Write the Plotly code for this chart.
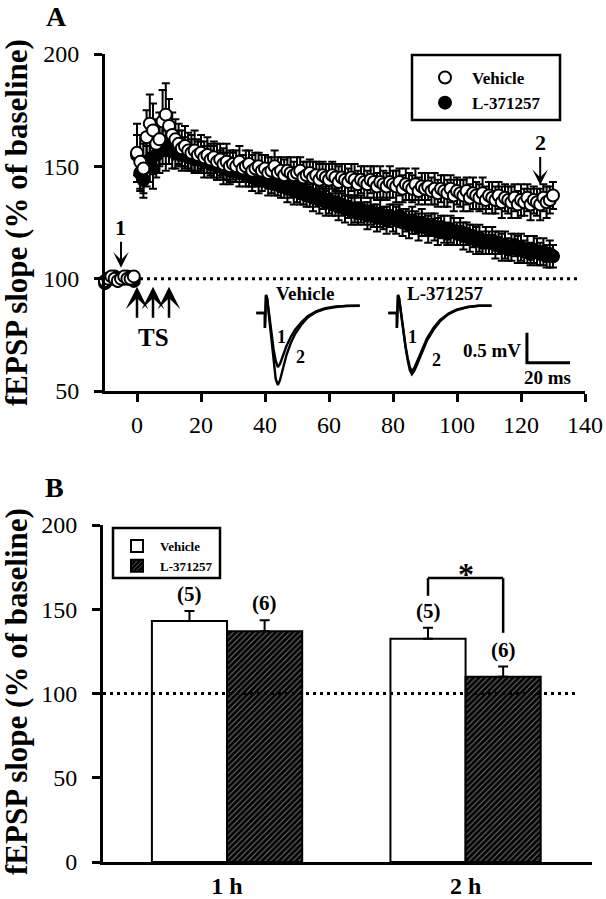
import plotly.graph_objects as go

# ---------------- data: panel A time course ----------------
t_base = [-10, -9, -8, -7, -6, -5, -4, -3, -2, -1]
veh_base = [99, 100, 101, 100, 99, 100, 101, 100, 100, 101]
veh_base_sem = [1, 1, 1, 1, 1, 1, 1, 1, 1, 1]
l37_base = [98, 100, 100, 101, 99, 100, 100, 101, 100, 99]
l37_base_sem = [1, 1, 1, 1, 1, 1, 1, 1, 1, 1]

t_post = list(range(0, 131))
veh_post = [
    156, 152, 149, 163, 169, 166, 160, 162, 170, 173,
    168, 164, 162, 160, 158, 159, 157, 156, 157, 155,
    156, 154, 155, 153, 154, 152, 153, 151, 152, 150,
    151, 150, 152, 149, 150, 151, 148, 149, 150, 148,
    149, 147, 148, 150, 147, 148, 146, 148, 147, 146,
    147, 148, 145, 146, 147, 145, 146, 144, 146, 145,
    144, 146, 145, 143, 145, 144, 143, 145, 144, 142,
    144, 143, 142, 144, 143, 141, 143, 142, 141, 143,
    142, 141, 143, 140, 142, 141, 140, 142, 139, 141,
    140, 141, 139, 140, 138, 140, 139, 138, 140, 137,
    139, 138, 137, 139, 136, 138, 137, 136, 138, 135,
    137, 136, 135, 137, 134, 136, 135, 134, 136, 133,
    135, 134, 136, 133, 135, 134, 133, 136, 134, 135,
    137]
veh_sem = [
    13, 12, 11, 12, 13, 12, 11, 12, 14, 14,
    12, 10, 9, 9, 8, 9, 8, 8, 9, 7,
    8, 7, 8, 7, 7, 8, 7, 7, 8, 7,
    6, 7, 7, 6, 7, 6, 7, 7, 6, 7,
    6, 7, 6, 7, 7, 6, 7, 6, 7, 6,
    7, 6, 7, 6, 6, 7, 6, 7, 6, 6,
    7, 6, 6, 7, 6, 7, 6, 6, 7, 6,
    6, 7, 6, 6, 7, 6, 7, 6, 6, 7,
    6, 7, 6, 6, 7, 6, 6, 7, 6, 6,
    7, 6, 6, 7, 6, 6, 7, 6, 6, 7,
    6, 6, 7, 6, 6, 7, 6, 6, 7, 6,
    6, 7, 6, 6, 7, 6, 6, 7, 6, 6,
    7, 6, 6, 7, 6, 6, 7, 6, 7, 6,
    6]
l37_post = [
    155, 147, 144, 150, 153, 149, 155, 158, 161, 157,
    159, 157, 156, 158, 155, 156, 154, 155, 153, 154,
    155, 152, 153, 151, 152, 150, 151, 149, 150, 148,
    150, 148, 147, 149, 146, 147, 145, 146, 144, 145,
    146, 143, 144, 142, 143, 141, 142, 140, 141, 139,
    140, 138, 139, 137, 138, 136, 137, 135, 136, 134,
    135, 133, 134, 132, 133, 131, 132, 130, 131, 129,
    131, 129, 128, 130, 128, 127, 129, 127, 126, 128,
    127, 126, 128, 125, 126, 124, 126, 125, 123, 125,
    124, 122, 124, 123, 121, 123, 122, 120, 122, 121,
    120, 121, 119, 120, 118, 119, 117, 118, 116, 117,
    116, 117, 115, 116, 114, 115, 113, 114, 115, 113,
    114, 112, 113, 111, 113, 112, 111, 112, 110, 111,
    110]
l37_sem = [
    9, 8, 8, 9, 10, 9, 10, 11, 10, 9,
    8, 8, 7, 8, 7, 7, 6, 7, 6, 7,
    6, 7, 6, 6, 7, 6, 6, 7, 6, 6,
    6, 5, 6, 6, 5, 6, 6, 5, 6, 6,
    5, 6, 6, 5, 6, 5, 6, 6, 5, 6,
    6, 5, 6, 5, 6, 6, 5, 6, 5, 6,
    6, 5, 6, 6, 5, 6, 5, 6, 6, 5,
    6, 5, 6, 6, 5, 6, 6, 5, 6, 5,
    6, 6, 5, 6, 5, 6, 6, 5, 6, 6,
    5, 6, 5, 6, 6, 5, 6, 5, 6, 6,
    5, 6, 6, 5, 6, 5, 6, 6, 5, 6,
    5, 6, 6, 5, 6, 6, 5, 6, 5, 6,
    6, 5, 6, 5, 6, 6, 5, 6, 5, 6,
    5]

# inset fEPSP traces (time in ms, amplitude in mV)
trace_t = [-4, 0, 0, 0.5, 1, 2, 3, 4, 5, 6, 7, 8, 9, 10, 12, 14, 17, 20, 24, 28, 33, 38, 44]
veh_trace1 = [0, 0, -0.25, 0.3, 0.25, -0.05, -0.35, -0.6, -0.8, -0.9, -0.85, -0.75, -0.65,
              -0.55, -0.4, -0.28, -0.15, -0.05, 0.03, 0.08, 0.11, 0.12, 0.12]
veh_trace2 = [0, 0, -0.25, 0.3, 0.25, -0.1, -0.5, -0.85, -1.1, -1.2, -1.12, -0.98, -0.84,
              -0.7, -0.5, -0.35, -0.19, -0.07, 0.02, 0.07, 0.1, 0.12, 0.12]
l37_trace1 = [0, 0, -0.25, 0.3, 0.25, -0.05, -0.3, -0.55, -0.75, -0.9, -0.97, -0.92, -0.84,
              -0.75, -0.57, -0.42, -0.25, -0.12, -0.01, 0.06, 0.1, 0.12, 0.12]
l37_trace2 = [0, 0, -0.25, 0.3, 0.25, -0.05, -0.3, -0.56, -0.78, -0.95, -1.02, -0.97, -0.89,
              -0.8, -0.61, -0.46, -0.28, -0.14, -0.02, 0.05, 0.1, 0.12, 0.12]
SCALE_MS = 20
SCALE_MV = 0.5

# ---------------- data: panel B bars ----------------
periods = ["1 h", "2 h"]
veh_bar = [143, 132.5]
veh_bar_sem = [6, 6.5]
l37_bar = [137, 110]
l37_bar_sem = [6.5, 6]
veh_n = ["(5)", "(5)"]
l37_n = ["(6)", "(6)"]

# ---------------- layout helpers ----------------
W, H = 606, 899
def px(x):
    return x / W
def py(y):
    return 1 - y / H

FONT = "Liberation Serif"
BOLD = dict(family=FONT, color="black", weight="bold")

fig = go.Figure()

# panel A series
for name, tb, yb, sb, yp, sp, fill, rank in [
    ("L-371257", t_base, l37_base, l37_base_sem, l37_post, l37_sem, "black", 2),
    ("Vehicle", t_base, veh_base, veh_base_sem, veh_post, veh_sem, "white", 1),
]:
    fig.add_trace(go.Scatter(
        x=tb + t_post, y=yb + yp, mode="markers", name=name,
        marker=dict(symbol="circle", size=12, color=fill, line=dict(color="black", width=2)),
        error_y=dict(type="data", array=sb + sp, color="black", thickness=2, width=4),
        xaxis="x", yaxis="y", cliponaxis=False, legend="legend", legendrank=rank,
    ))

# inset traces
for xa, ya, tr in [("x3", "y3", veh_trace1), ("x3", "y3", veh_trace2),
                   ("x4", "y4", l37_trace1), ("x4", "y4", l37_trace2)]:
    fig.add_trace(go.Scatter(x=trace_t, y=tr, mode="lines", line=dict(color="black", width=2.4),
                             xaxis=xa, yaxis=ya, showlegend=False, hoverinfo="skip"))
sb_x0 = 60.5
sb_y0 = -0.83
fig.add_trace(go.Scatter(x=[sb_x0, sb_x0, sb_x0 + SCALE_MS], y=[sb_y0 + SCALE_MV, sb_y0, sb_y0],
                         mode="lines", line=dict(color="black", width=3),
                         xaxis="x4", yaxis="y4", showlegend=False, hoverinfo="skip"))

# panel B bars
fig.add_trace(go.Bar(
    x=periods, y=veh_bar, name="Vehicle", xaxis="x2", yaxis="y2", legend="legend2",
    marker=dict(color="white", line=dict(color="black", width=2)),
    error_y=dict(type="data", array=veh_bar_sem, arrayminus=[0, 0], color="black", thickness=2, width=5),
))
fig.add_trace(go.Bar(
    x=periods, y=l37_bar, name="L-371257", xaxis="x2", yaxis="y2", legend="legend2",
    marker=dict(color="black", line=dict(color="black", width=2),
                pattern=dict(shape="/", fgcolor="#777777", bgcolor="black", size=4,
                             solidity=0.25, fillmode="replace")),
    error_y=dict(type="data", array=l37_bar_sem, arrayminus=[0, 0], color="black", thickness=2, width=5),
))

BARGAP = 0.37
half = (1 - BARGAP) / 4

shapes = []
# baseline dotted lines
shapes.append(dict(type="line", xref="x", yref="y", x0=-10, x1=138, y0=100, y1=100,
                   line=dict(color="black", width=3, dash="3px,4px"), layer="below"))
shapes.append(dict(type="line", xref="x2 domain", yref="y2", x0=0, x1=0.971, y0=100, y1=100,
                   line=dict(color="black", width=3, dash="3px,4px"), layer="above"))
# legend boxes
shapes.append(dict(type="rect", xref="paper", yref="paper", x0=px(412), x1=px(560), y0=py(120), y1=py(55),
                   line=dict(color="black", width=2.5), fillcolor="rgba(0,0,0,0)"))
shapes.append(dict(type="rect", xref="paper", yref="paper", x0=px(113), x1=px(220), y0=py(578), y1=py(528),
                   line=dict(color="black", width=2.5), fillcolor="rgba(0,0,0,0)"))
# significance bracket (2 h)
br_top = 168.5
xl, xr = 1 - half, 1 + half
br_left_bottom = veh_bar[1] + veh_bar_sem[1] + 19
br_right_bottom = l37_bar[1] + l37_bar_sem[1] + 20
for x0, y0, x1, y1 in [(xl, br_left_bottom, xl, br_top), (xl, br_top, xr, br_top), (xr, br_top, xr, br_right_bottom)]:
    shapes.append(dict(type="line", xref="x2", yref="y2", x0=x0, x1=x1, y0=y0, y1=y1,
                       line=dict(color="black", width=2.5)))

annotations = []
def ann(**kw):
    base = dict(showarrow=False, font=dict(BOLD, size=20), xanchor="center", yanchor="middle")
    base.update(kw)
    annotations.append(base)

# panel letters
ann(text="A", xref="paper", yref="paper", x=px(56), y=py(16), font=dict(BOLD, size=28))
ann(text="B", xref="paper", yref="paper", x=px(54), y=py(487), font=dict(BOLD, size=28))
# y titles
ann(text="fEPSP slope (% of baseline)", xref="paper", yref="paper", x=px(16), y=py(223),
    textangle=-90, font=dict(BOLD, size=31))
ann(text="fEPSP slope (% of baseline)", xref="paper", yref="paper", x=px(16), y=py(692),
    textangle=-90, font=dict(BOLD, size=31))
# arrows 1 and 2
ann(text="1", xref="x", yref="y", x=-5, y=104.9, showarrow=True, ax=0, ay=-40,
    arrowhead=3, arrowsize=1.3, arrowwidth=2, arrowcolor="black", font=dict(BOLD, size=22))
ann(text="2", xref="x", yref="y", x=126, y=141.7, showarrow=True, ax=0, ay=-42,
    arrowhead=3, arrowsize=1.3, arrowwidth=2, arrowcolor="black", font=dict(BOLD, size=22))
# TS arrows
for tx in [0, 5, 10]:
    ann(text=" ", xref="x", yref="y", x=tx, y=96.4, showarrow=True, ax=0, ay=33,
        arrowhead=3, arrowsize=1.5, arrowwidth=2.5, arrowcolor="black", font=dict(BOLD, size=1))
ann(text="TS", xref="x", yref="y", x=5.3, y=73.8, font=dict(BOLD, size=25))
# inset labels
ann(text="Vehicle", xref="x3", yref="y3", x=18.6, y=0.33, font=dict(BOLD, size=19))
ann(text="1", xref="x3", yref="y3", x=7.9, y=-0.4, font=dict(BOLD, size=18))
ann(text="2", xref="x3", yref="y3", x=16.3, y=-0.73, font=dict(BOLD, size=18))
ann(text="L-371257", xref="x4", yref="y4", x=22.8, y=0.33, font=dict(BOLD, size=19))
ann(text="1", xref="x4", yref="y4", x=7.4, y=-0.4, font=dict(BOLD, size=18))
ann(text="2", xref="x4", yref="y4", x=18.6, y=-0.78, font=dict(BOLD, size=18))
ann(text="0.5 mV", xref="x4", yref="y4", x=58.6, y=-0.62, xanchor="right", font=dict(BOLD, size=19))
ann(text="20 ms", xref="x4", yref="y4", x=70.2, y=-1.07, font=dict(BOLD, size=19))
# n labels
for i in range(2):
    ann(text=veh_n[i], xref="x2", yref="y2", x=i - half, y=veh_bar[i] + veh_bar_sem[i],
        yanchor="bottom", yshift=3, font=dict(BOLD, size=21))
    ann(text=l37_n[i], xref="x2", yref="y2", x=i + half, y=l37_bar[i] + l37_bar_sem[i],
        yanchor="bottom", yshift=3, font=dict(BOLD, size=21))
ann(text="*", xref="x2", yref="y2", x=1, y=br_top, yanchor="middle", yshift=4, font=dict(BOLD, size=32))

axis_common = dict(showline=True, linewidth=3, linecolor="black", showgrid=False, zeroline=False,
                   ticks="outside", ticklen=8, tickwidth=2.5, tickcolor="black", automargin=False,
                   tickfont=dict(family=FONT, size=24, color="black"))
hidden = dict(visible=False, showgrid=False, zeroline=False, fixedrange=True, automargin=False)

fig.update_layout(
    template="none",
    width=W, height=H, autosize=False,
    margin=dict(l=0, r=0, t=0, b=0, autoexpand=False),
    paper_bgcolor="white", plot_bgcolor="rgba(0,0,0,0)",
    font=dict(family=FONT, color="black"),
    barmode="group", bargap=BARGAP, bargroupgap=0,
    xaxis=dict(axis_common, domain=[px(105), px(585)], range=[-10, 140], tickvals=[0, 20, 40, 60, 80, 100, 120, 140],
               anchor="y", ticklabelstandoff=2),
    yaxis=dict(axis_common, domain=[py(391), py(54)], range=[50, 200], tickvals=[50, 100, 150, 200],
               anchor="x", ticklabelstandoff=10),
    xaxis2=dict(axis_common, domain=[px(103), px(592)], range=[-0.52, 1.53], anchor="y2", type="category",
                ticks="", tickfont=dict(family=FONT, size=24, color="black", weight="bold"), ticklabelstandoff=0),
    yaxis2=dict(axis_common, domain=[py(862), py(525)], range=[0, 200], tickvals=[0, 50, 100, 150, 200],
                anchor="x2", ticklabelstandoff=10),
    xaxis3=dict(hidden, domain=[px(252), px(364)], range=[-6, 46], anchor="y3"),
    yaxis3=dict(hidden, domain=[py(394), py(286)], range=[-1.35, 0.45], anchor="x3"),
    xaxis4=dict(hidden, domain=[px(384), px(571)], range=[-6, 81], anchor="y4"),
    yaxis4=dict(hidden, domain=[py(394), py(286)], range=[-1.35, 0.45], anchor="x4"),
    legend=dict(x=px(418), y=py(60), xanchor="left", yanchor="top", bgcolor="rgba(0,0,0,0)",
                borderwidth=0, font=dict(BOLD, size=17), tracegroupgap=0, itemwidth=44),
    legend2=dict(x=px(114), y=py(531), xanchor="left", yanchor="top", bgcolor="rgba(0,0,0,0)",
                 borderwidth=0, font=dict(BOLD, size=13), tracegroupgap=0, itemwidth=36),
    shapes=shapes, annotations=annotations, showlegend=True,
)

fig.write_html("out.html", config={"displayModeBar": False},
               post_script="document.body.style.margin='0px';")
